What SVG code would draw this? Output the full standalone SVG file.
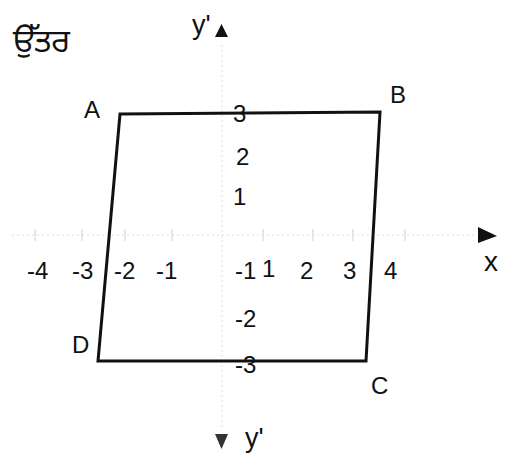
<svg xmlns="http://www.w3.org/2000/svg" width="505" height="458" viewBox="0 0 505 458">
<style>
text{font-family:"Liberation Sans",Arial,sans-serif;fill:#111;}
.n{font-size:24px;}
.lbl{font-size:24px;}
.ax{stroke:#dddddd;stroke-width:1;stroke-dasharray:2 3;fill:none;}
.tk{stroke:#d0d0d0;stroke-width:1;fill:none;}
.shape{stroke:#111;stroke-width:3;fill:none;stroke-linejoin:miter;}
</style>
<rect width="505" height="458" fill="#fff"/>
<g id="title"><text x="13" y="52" style="font-size:32px;font-family:'Noto Sans Gurmukhi','Noto Sans','DejaVu Sans',sans-serif">ਉੱਤਰ</text></g>
<g id="axes">
<line class="ax" x1="12" y1="235" x2="475" y2="235"/>
<line class="ax" x1="222" y1="45" x2="222" y2="428"/>
<g class="tk">
<line x1="35" y1="229" x2="35" y2="241"/>
<line x1="82" y1="229" x2="82" y2="241"/>
<line x1="125" y1="229" x2="125" y2="241"/>
<line x1="172" y1="229" x2="172" y2="241"/>
<line x1="263" y1="229" x2="263" y2="241"/>
<line x1="313" y1="229" x2="313" y2="241"/>
<line x1="353" y1="229" x2="353" y2="241"/>
<line x1="405" y1="229" x2="405" y2="241"/>
</g>
<polygon points="478,227 497,236 478,243" fill="#111"/>
<polygon points="215,37 228,37 221.5,24" fill="#111"/>
<polygon points="215,434 228,434 221.5,449" fill="#333"/>
<text x="484" y="271" style="font-size:28px">x</text>
<text x="192" y="34" style="font-size:27px">y'</text>
<text x="245" y="447" style="font-size:27px">y'</text>
</g>
<g id="ticklabels">
<text x="27" y="279" class="n">-4</text>
<text x="72" y="279" class="n">-3</text>
<text x="114" y="279" class="n">-2</text>
<text x="156" y="279" class="n">-1</text>
<text x="235" y="279" class="n">-1</text>
<text x="262" y="277" class="n">1</text>
<text x="300" y="279" class="n">2</text>
<text x="343" y="279" class="n">3</text>
<text x="384" y="279" class="n">4</text>
<text x="233" y="122" class="n">3</text>
<text x="236" y="165" class="n">2</text>
<text x="233" y="205" class="n">1</text>
<text x="235" y="327" class="n">-2</text>
<text x="235" y="373" class="n">-3</text>
</g>
<g id="shape">
<polygon class="shape" points="120,114 380,112 366,361 98,361"/>
</g>
<g id="A"><text x="84" y="118" class="lbl">A</text></g>
<g id="B"><text x="390" y="103" class="lbl">B</text></g>
<g id="C"><text x="371" y="394" class="lbl">C</text></g>
<g id="D"><text x="72" y="353" class="lbl">D</text></g>
</svg>
